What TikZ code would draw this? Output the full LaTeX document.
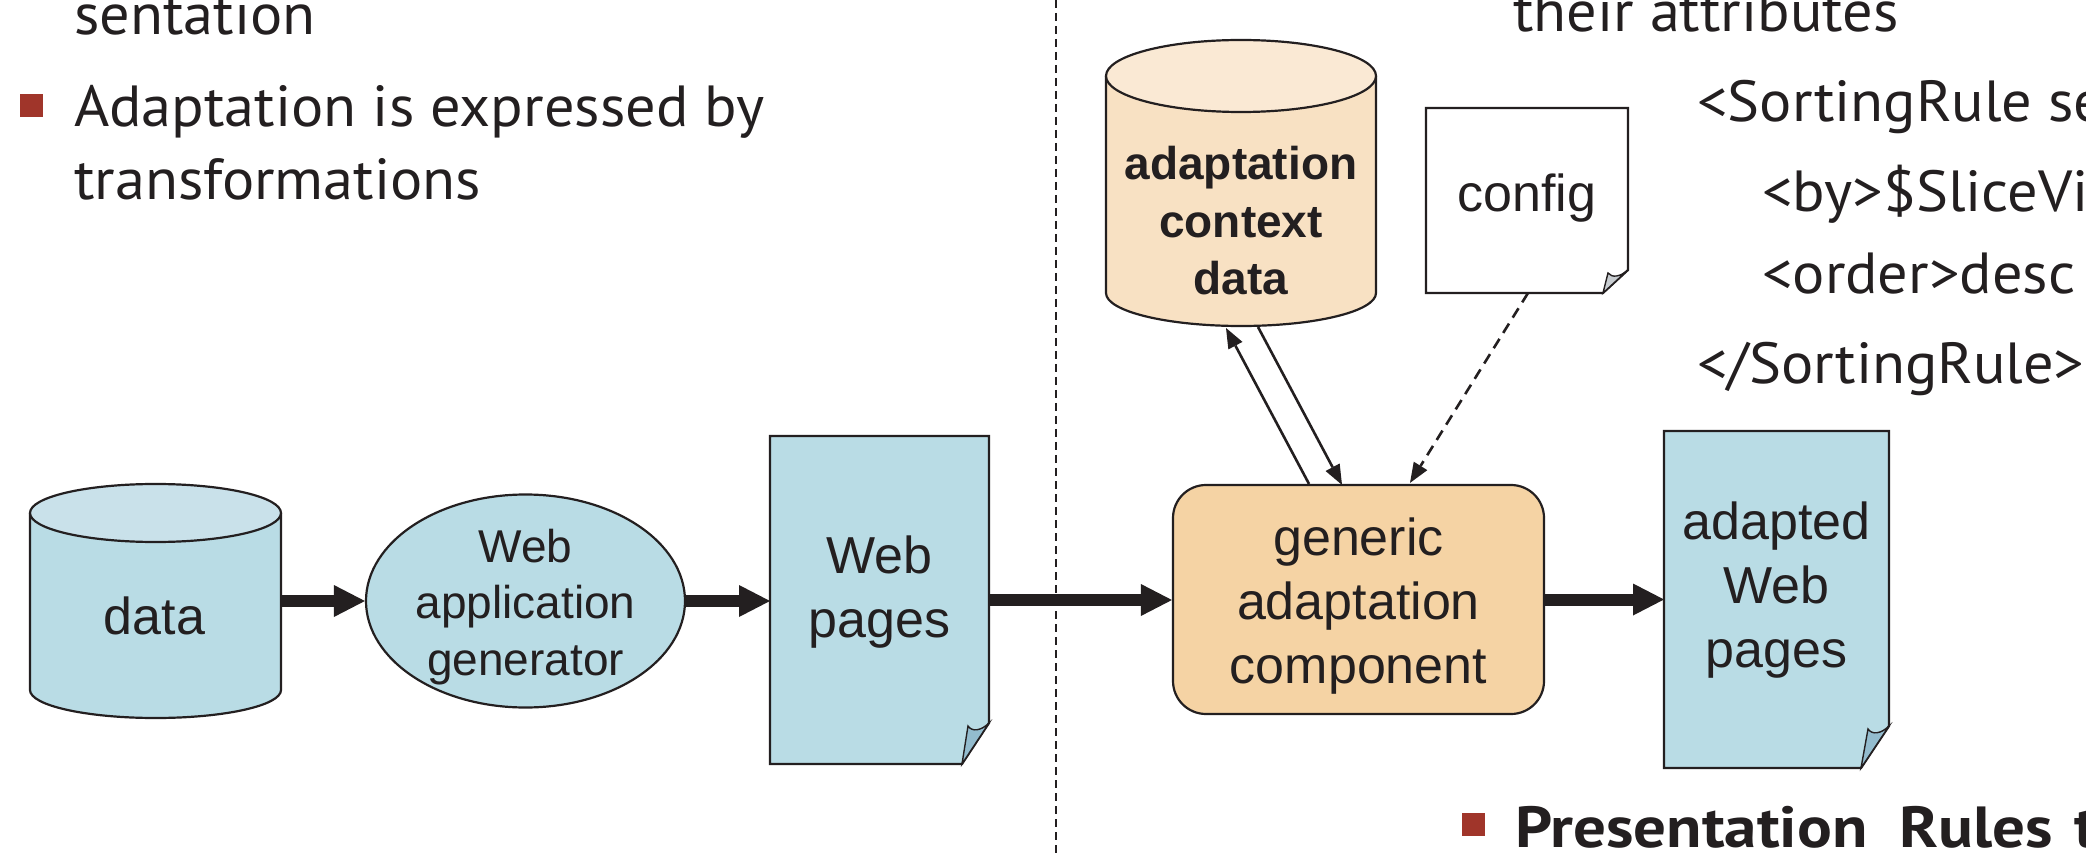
\documentclass[tikz,border=0pt]{standalone}
\usepackage{fontspec}
\setmainfont{Liberation Sans}
\newfontfamily\bodyfont[FakeStretch=1.04]{PT Sans}
\newfontfamily\bodyboldfont[FakeStretch=1.12]{PT Sans}
\usetikzlibrary{arrows.meta,calc,shapes.geometric}
\definecolor{ink}{HTML}{231F20}
\definecolor{lblue}{HTML}{B9DCE5}
\definecolor{lbluetop}{HTML}{C9E1EA}
\definecolor{foldblue}{HTML}{93BCCE}
\definecolor{peach}{HTML}{F5D3A4}
\definecolor{cream}{HTML}{F8E1C3}
\definecolor{creamtop}{HTML}{FAE9D4}
\definecolor{foldgray}{HTML}{C8CDD1}
\definecolor{bulletred}{HTML}{A0352A}
\begin{document}
\begin{tikzpicture}[x=1pt,y=-1pt,
  outline/.style={draw=ink,line width=2.2pt},
  foldline/.style={draw=ink,line width=1.4pt},
  box/.style={inner sep=0pt,outer sep=0pt,draw=none},
  lbl/.style={inner sep=0pt,anchor=base,align=center,text=ink,font=\fontsize{52}{64}\selectfont},
  lblsmall/.style={lbl,font=\fontsize{46}{56.5}\selectfont},
  lblbold/.style={lbl,font=\fontsize{46}{57.5}\selectfont\bfseries},
  body/.style={inner sep=0pt,anchor=base west,text=ink,font=\bodyfont\fontsize{58}{70}\selectfont},
  bodybold/.style={body,font=\bodyboldfont\fontsize{58}{70}\selectfont\bfseries},
  bulletsq/.style={fill=bulletred,inner sep=0pt,minimum size=23pt},
  bigarrow/.style={draw=ink,line width=12pt,-{Triangle[length=31pt,width=32pt,line width=0pt]}},
  thinarrow/.style={draw=ink,line width=2.6pt,-{Triangle[length=20pt,width=16pt,line width=0pt]}},
  dasharrow/.style={thinarrow,dash pattern=on 11pt off 7pt}
]
\useasboundingbox (0,0) rectangle (2086,858);
\clip (0,0) rectangle (2086,858);

% left text
\node[body] (t1) at (74,35) {sentation};
\node[bulletsq] (b1) at (31.5,105.5) {};
\node[body] (t2) at (74,127) {Adaptation is expressed by};
\node[body] (t3) at (74,200) {transformations};

% right text
\node[body] (t4) at (1513,32) {their attributes};
\node[body] (t5) at (1697,122) {<SortingRule se};
\node[body] (t6) at (1762,212) {<by>\$SliceVi};
\node[body] (t7) at (1762,294) {<order>desc};
\node[body] (t8) at (1697,384) {</SortingRule>};
\node[bulletsq] (b2) at (1473.5,824.5) {};
\node[bodybold] (t9) at (1515,847) {\makebox[384pt][l]{Presentation}\makebox[175pt][l]{Rules}t};

% divider
\draw[ink,line width=2pt,dash pattern=on 8pt off 5pt] (1056,0) -- (1056,858);

% data cylinder
\node[box,minimum width=251pt,minimum height=234pt] (data) at (155.5,601) {};
\fill[lblue] (30,513) -- (30,690) arc[start angle=180,end angle=360,x radius=125.5pt,y radius=28pt] -- (281,513) -- cycle;
\draw[outline] (30,513) -- (30,690) arc[start angle=180,end angle=360,x radius=125.5pt,y radius=28pt] -- (281,513);
\draw[outline,fill=lbluetop] (155.5,513) ellipse[x radius=125.5pt,y radius=29pt];
\node[lbl] (dataT) at (154.5,634) {data};

% generator ellipse
\node[outline,fill=lblue,ellipse,inner sep=0pt,minimum width=319pt,minimum height=213pt] (gen) at (525.5,601) {};
\node[lblsmall] (genT) at (525.5,675) {Web\\application\\generator};

% Web pages document
\node[box,minimum width=219pt,minimum height=328pt] (wp) at (879.5,600) {};
\draw[outline,fill=lblue] (770,436) -- (989,436) -- (989,723) -- (962,764) -- (770,764) -- cycle;
\draw[foldline,fill=foldblue] (989,723) -- (962,764) -- (968,726) .. controls (972,732) and (981,731) .. (989,723) -- cycle;
\node[lbl] (wpT) at (879.5,637) {Web\\pages};

% generic adaptation component
\node[outline,fill=peach,rounded corners=33pt,inner sep=0pt,minimum width=371pt,minimum height=229pt] (gac) at (1358.5,599.5) {};
\node[lbl] (gacT) at (1358.5,683) {generic\\adaptation\\component};

% adapted Web pages
\node[box,minimum width=225pt,minimum height=337pt] (awp) at (1776.5,599.5) {};
\draw[outline,fill=lblue] (1664,431) -- (1889,431) -- (1889,726) -- (1861,768) -- (1664,768) -- cycle;
\draw[foldline,fill=foldblue] (1889,726) -- (1861,768) -- (1868,729) .. controls (1872,735) and (1881,734) .. (1889,726) -- cycle;
\node[lbl] (awpT) at (1776.5,667) {adapted\\Web\\pages};

% adaptation context data cylinder
\node[box,minimum width=270pt,minimum height=286pt] (acd) at (1241,183) {};
\fill[cream] (1106,76) -- (1106,293) arc[start angle=180,end angle=360,x radius=135pt,y radius=33pt] -- (1376,76) -- cycle;
\draw[outline] (1106,76) -- (1106,293) arc[start angle=180,end angle=360,x radius=135pt,y radius=33pt] -- (1376,76);
\draw[outline,fill=creamtop] (1241,76) ellipse[x radius=135pt,y radius=36pt];
\node[lblbold] (acdT) at (1241,295) {adaptation\\context\\data};

% config document
\node[box,minimum width=202pt,minimum height=185pt] (cfg) at (1527,200.5) {};
\draw[outline,fill=white] (1426,108) -- (1628,108) -- (1628,270) -- (1603,293) -- (1426,293) -- cycle;
\draw[foldline,fill=foldgray] (1628,270) -- (1603,293) -- (1608,273) .. controls (1612,278) and (1620,277) .. (1628,270) -- cycle;
\node[lbl] (cfgT) at (1527,212) {config};

% connectors
\draw[bigarrow] (data.east) -- (data.east -| gen.west);
\draw[bigarrow] (gen.east) -- (gen.east -| wp.west);
\draw[bigarrow] (wp.east) -- (wp.east -| gac.west);
\draw[bigarrow] (gac.east) -- (gac.east -| awp.west);
\draw[thinarrow] ([xshift=-49.5pt]gac.north) -- ([xshift=-15pt,yshift=-2pt]acd.south);
\draw[thinarrow] ([xshift=17pt,yshift=-1pt]acd.south) -- ([xshift=-16.5pt,yshift=-1pt]gac.north);
\draw[dasharrow] ([xshift=1pt]cfg.south) -- ([xshift=51.5pt,yshift=1pt]gac.north);
\end{tikzpicture}
\end{document}
